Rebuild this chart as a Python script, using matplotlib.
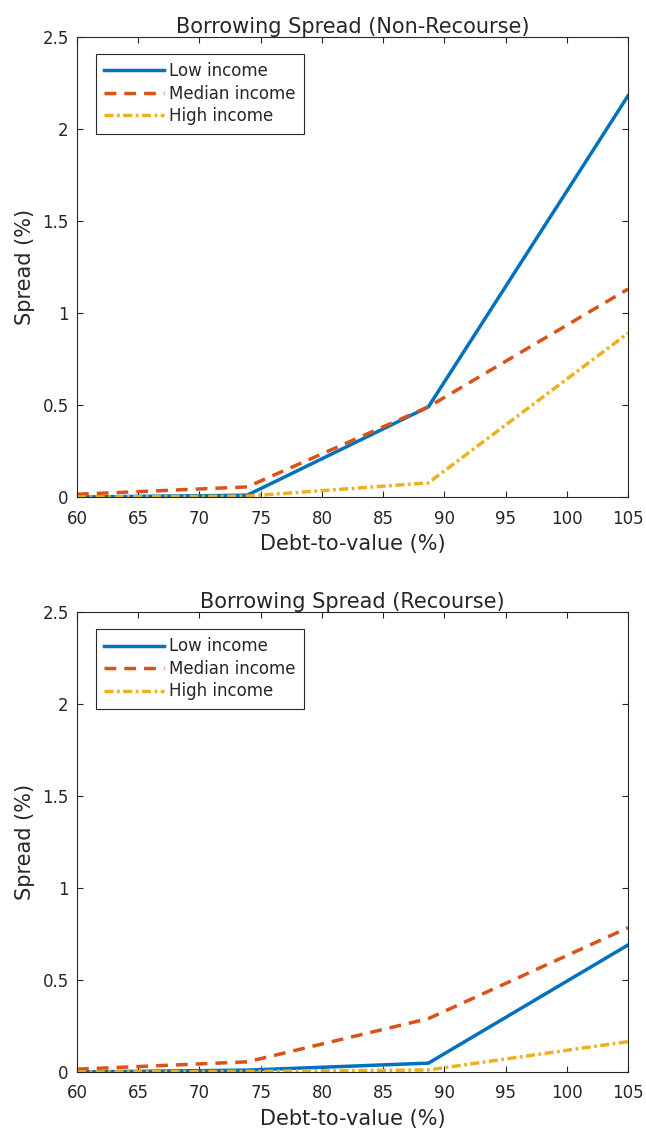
import matplotlib
matplotlib.use("Agg")
import matplotlib.pyplot as plt

# debt-to-value grid (kinks)
dtv = [60, 73.9, 88.7, 105]

# non-recourse spreads (%)
nr_low = [0.0, 0.01, 0.49, 2.18]
nr_med = [0.015, 0.055, 0.49, 1.13]
nr_high = [0.0, 0.005, 0.077, 0.89]

# recourse spreads (%)
rc_low = [0.0, 0.01, 0.048, 0.69]
rc_med = [0.015, 0.055, 0.29, 0.784]
rc_high = [0.0, 0.003, 0.011, 0.165]

labels = ["Low income", "Median income", "High income"]
titles = ["Borrowing Spread (Non-Recourse)", "Borrowing Spread (Recourse)"]

plt.rcParams["font.family"] = "DejaVu Sans"
dark = "#262626"

fig = plt.figure(figsize=(6.46, 11.34), dpi=100)
ax1 = fig.add_axes([0.1192, 0.5617, 0.8529, 0.4057])
ax2 = fig.add_axes([0.1192, 0.0547, 0.8529, 0.4056])

panels = [(ax1, nr_low, nr_med, nr_high, titles[0]),
          (ax2, rc_low, rc_med, rc_high, titles[1])]

for ax, lo, me, hi, ttl in panels:
    ax.plot(dtv, lo, color="#0072BD", lw=2.5, ls="-", label=labels[0])
    ax.plot(dtv, me, color="#D95319", lw=2.5, ls=(0, (3.4, 2.3)), label=labels[1])
    ax.plot(dtv, hi, color="#EDB120", lw=2.5, ls=(0, (2.6, 1.0, 0.8, 1.0)), label=labels[2])
    ax.set_xlim(60, 105)
    ax.set_ylim(0, 2.5)
    ax.set_xticks(range(60, 106, 5))
    ax.set_yticks([0, 0.5, 1, 1.5, 2, 2.5])
    ax.set_yticklabels(["0", "0.5", "1", "1.5", "2", "2.5"])
    ax.tick_params(direction="in", top=True, right=True, labelsize=12,
                   length=4, width=0.8, colors=dark)
    ax.tick_params(axis="x", pad=9)
    ax.tick_params(axis="y", pad=6)
    for s in ax.spines.values():
        s.set_color(dark)
        s.set_linewidth(0.8)
    ax.set_title(ttl, fontsize=15, color=dark, pad=3)
    ax.set_xlabel("Debt-to-value (%)", fontsize=15, color=dark, labelpad=5)
    ax.set_ylabel("Spread (%)", fontsize=15, color=dark, labelpad=5)
    leg = ax.legend(loc="upper left", bbox_to_anchor=(0.0345, 0.963), borderaxespad=0,
                    fontsize=12, fancybox=False, framealpha=1, edgecolor=dark,
                    handlelength=3.6, handletextpad=0.3, labelspacing=0.27,
                    borderpad=0.5)
    leg.get_frame().set_linewidth(0.8)
    for t in leg.get_texts():
        t.set_color(dark)

fig.savefig("out.png", dpi=100)
